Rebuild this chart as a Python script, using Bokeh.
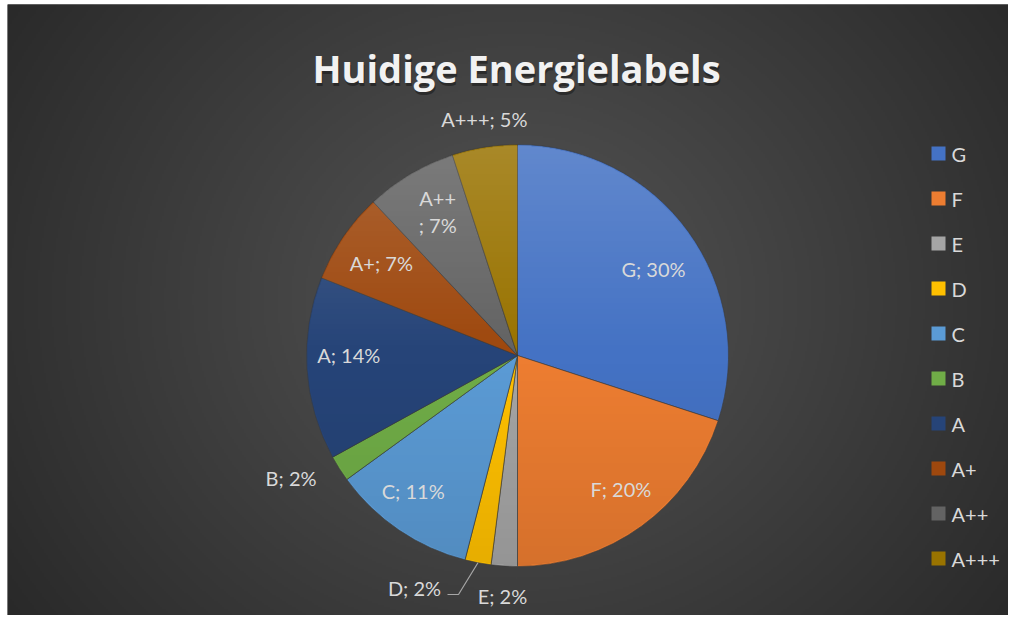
import numpy as np
from bokeh.plotting import figure
from bokeh.models import Range1d, ColumnDataSource
from bokeh.core.properties import value
from bokeh.embed import file_html
from bokeh.resources import INLINE

# ---- data ----
categories = ["G", "F", "E", "D", "C", "B", "A", "A+", "A++", "A+++"]
percent = [30, 20, 2, 2, 11, 2, 14, 7, 7, 5]
colors = ["#4472C4", "#ED7D31", "#A5A5A5", "#FFC000", "#5B9BD5",
          "#70AD47", "#264478", "#9E480E", "#636363", "#997300"]
title_text = "Huidige Energielabels"

# ---- layout (styles) ----
W, H = 1008, 615
OX, OY = 7, 4            # white margin left/top like the reference
FW, FH = W - OX, H - OY  # frame size
def X(sx): return sx - OX
def Y(sy): return FH - (sy - OY)

cx, cy, R = X(517), Y(355), 211
label_radius = [0.765, 0.80, 1.14, 1.20, 0.81, 1.22, 0.80, 0.78, 0.78, 1.13]
label_dangle = [-3.4, 1.8, 0.0, 0.0, -3.4, -4.0, -3.9, 0.0, -1.6, -1.0]
FONT = "Lato"
TXT = "#d9d9d9"

p = figure(width=W, height=H, output_backend="svg", toolbar_location=None,
           x_range=Range1d(0, FW), y_range=Range1d(0, FH),
           min_border_left=OX, min_border_top=OY, min_border_right=0,
           min_border_bottom=0, border_fill_color="white",
           outline_line_color=None)
p.axis.visible = False
p.grid.visible = False
p.background_fill_color = "#2b2b2b"

# background radial gradient
bw, bh = FW // 2 + 1, FH // 2 + 1
yy, xx = np.mgrid[0:bh, 0:bw]
px = xx * 2.0
py = yy * 2.0
gcx, gcy = X(515), Y(300)
d = np.sqrt(((px - gcx) / 1.0) ** 2 + ((py - gcy) / 0.9) ** 2)
t = np.clip(d / 620.0, 0, 1)
inner, outer = 0x55, 0x29
g = (inner + (outer - inner) * t).astype(np.uint32)
bg = (255 << 24) | (g << 16) | (g << 8) | g
p.image_rgba(image=[bg.astype(np.uint32)], x=0, y=0, dw=bw * 2, dh=bh * 2)

# pie
tot = float(sum(percent))
cum = np.cumsum([0] + percent)
starts = [np.pi / 2 - 2 * np.pi * cum[i] / tot for i in range(len(percent))]
ends = [np.pi / 2 - 2 * np.pi * cum[i + 1] / tot for i in range(len(percent))]
mids = [(s + e) / 2 for s, e in zip(starts, ends)]
src = ColumnDataSource(dict(cat=categories, val=percent, color=colors,
                            start=starts, end=ends))
p.wedge(x=cx, y=cy, radius=R, start_angle="start", end_angle="end",
        direction="clock", fill_color="color", line_color="#3a3a3a",
        line_width=0.6, source=src)

# vertical lighting overlay on pie
n = 2 * R
oy, ox = np.mgrid[0:n, 0:n]
rr = np.sqrt((ox + 0.5 - R) ** 2 + (oy + 0.5 - R) ** 2)
inside = rr <= R - 1.0
tt = oy / (n - 1.0)  # 0 bottom .. 1 top
light = tt > 0.5
a_light = ((tt - 0.5) * 2 * 0.16 * 255).astype(np.uint32)
a_dark = ((0.5 - tt) * 2 * 0.10 * 255).astype(np.uint32)
ov = np.where(light, (a_light << 24) | 0xFFFFFF, (a_dark << 24) | 0x000000)
ov = np.where(inside, ov, 0).astype(np.uint32)
p.image_rgba(image=[ov], x=cx - R, y=cy - R, dw=n, dh=n)

# data labels
labels = [f"{c}; {v}%" for c, v in zip(categories, percent)]
labels[8] = "A++\n; 7%"
la = [m + np.radians(da) for m, da in zip(mids, label_dangle)]
lx = [cx + R * f * np.cos(a) for f, a in zip(label_radius, la)]
ly = [cy + R * f * np.sin(a) for f, a in zip(label_radius, la)]
# D label is moved aside with a leader line
iD = categories.index("D")
lx[iD], ly[iD] = X(414), Y(587)
p.text(x=lx, y=ly, text=labels, text_align="center", text_baseline="middle",
       text_color=TXT, text_font=value(FONT), text_font_size="20px",
       text_line_height=1.15)
ex, ey = cx + R * np.cos(mids[iD]), cy + R * np.sin(mids[iD])
p.line(x=[ex, X(458), X(447)], y=[ey, Y(594), Y(594)], line_color="#a6a6a6",
       line_width=1.2)

# title with shadow
TF = "Open Sans"
p.text(x=[X(516) + 1], y=[Y(67) - 3], text=[title_text], text_align="center",
       text_baseline="alphabetic", text_color="black", text_alpha=0.35,
       text_font=value(TF), text_font_style="bold", text_font_size="38px")
p.text(x=[X(516)], y=[Y(67)], text=[title_text], text_align="center",
       text_baseline="alphabetic", text_color="#f2f2f2",
       text_font=value(TF), text_font_style="bold", text_font_size="38px")

# legend
lgx = [X(938)] * len(categories)
lgy = [Y(153 + 45 * i) for i in range(len(categories))]
p.rect(x=lgx, y=lgy, width=14, height=14, fill_color=colors, line_color=None)
p.text(x=[X(951)] * len(categories), y=lgy, text=categories, text_align="left",
       text_baseline="middle", text_color=TXT, text_font=value(FONT),
       text_font_size="20px")

open("out.html", "w").write(file_html(p, INLINE))
